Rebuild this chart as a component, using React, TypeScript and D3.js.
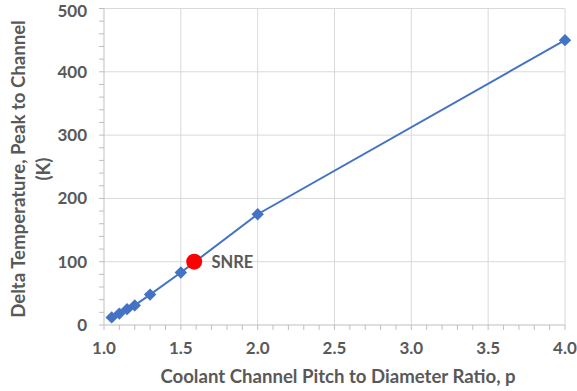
import * as d3 from "d3";

const ratios = [1.05, 1.1, 1.15, 1.2, 1.3, 1.5, 2.0, 4.0];
const deltaT = [12, 18, 25, 31, 48, 83, 175, 450];
const snre = { p: 1.587, t: 100, label: "SNRE" };
const xTicks = [1.0, 1.5, 2.0, 2.5, 3.0, 3.5, 4.0];
const yTicks = [0, 100, 200, 300, 400, 500];

const W = 577;
const H = 391;
const font = "Lato, 'Open Sans', sans-serif";
const grey = "#595959";

export default function App() {
  const x = d3.scaleLinear().domain([1, 4]).range([104, 565]);
  const y = d3.scaleLinear().domain([0, 500]).range([325, 8.5]);
  const pts = ratios.map((p, i) => [p, deltaT[i]] as [number, number]);
  const line = d3.line<[number, number]>().x(d => x(d[0])).y(d => y(d[1]));
  const xMinor = d3.range(10, 41).map(v => v / 10);
  const yMinor = d3.range(0, 501, 20);
  const diamond = d3.symbol().type(d3.symbolDiamond2).size(98)();

  return (
    <svg width={W} height={H} style={{ position: "absolute", left: 0, top: 0, background: "#fff" }}>
      {/* gridlines */}
      {yTicks.slice(1).map(t => (
        <line key={"gy" + t} x1={x(1)} x2={x(4)} y1={y(t)} y2={y(t)} stroke="#d9d9d9" />
      ))}
      {xTicks.slice(1).map(t => (
        <line key={"gx" + t} x1={x(t)} x2={x(t)} y1={y(0)} y2={y(500)} stroke="#d9d9d9" />
      ))}
      {/* axes */}
      <line x1={x(1)} x2={x(4)} y1={y(0)} y2={y(0)} stroke="#bfbfbf" />
      <line x1={x(1)} x2={x(1)} y1={y(0)} y2={y(500)} stroke="#bfbfbf" />
      {xMinor.map(t => (
        <line key={"tx" + t} x1={x(t)} x2={x(t)} y1={y(0)} y2={y(0) + 5} stroke="#bfbfbf" />
      ))}
      {yMinor.map(t => (
        <line key={"ty" + t} x1={x(1) - 5} x2={x(1)} y1={y(t)} y2={y(t)} stroke="#bfbfbf" />
      ))}
      {/* tick labels */}
      {xTicks.map(t => (
        <text key={"lx" + t} x={x(t)} y={354} textAnchor="middle" fontFamily={font} fontWeight="bold" fontSize={17} fill={grey}>
          {d3.format(".1f")(t)}
        </text>
      ))}
      {yTicks.map(t => (
        <text key={"ly" + t} x={87} y={Math.max(y(t) + 6, 17)} textAnchor="end" fontFamily={font} fontWeight="bold" fontSize={17} fill={grey}>
          {t}
        </text>
      ))}
      {/* axis titles */}
      <text x={338} y={383} textAnchor="middle" fontFamily={font} fontWeight="bold" fontSize={18.6} fill={grey}>
        Coolant Channel Pitch to Diameter Ratio, p
      </text>
      <g transform="translate(0,169) rotate(-90)" fontFamily={font} fontWeight="bold" fontSize={18.6} fill={grey}>
        <text x={0} y={25} textAnchor="middle">Delta Temperature, Peak to Channel</text>
        <text x={0} y={50} textAnchor="middle">(K)</text>
      </g>
      {/* series */}
      <path d={line(pts) || ""} fill="none" stroke="#4472c4" strokeWidth={2} />
      {pts.map((d, i) => (
        <path key={"m" + i} d={diamond || ""} transform={`translate(${x(d[0])},${y(d[1])})`} fill="#4472c4" />
      ))}
      <circle cx={x(snre.p)} cy={y(snre.t)} r={8} fill="#ff0000" />
      <text x={211.5} y={y(snre.t) + 6} fontFamily={font} fontWeight="bold" fontSize={16.5} fill={grey}>
        {snre.label}
      </text>
    </svg>
  );
}
